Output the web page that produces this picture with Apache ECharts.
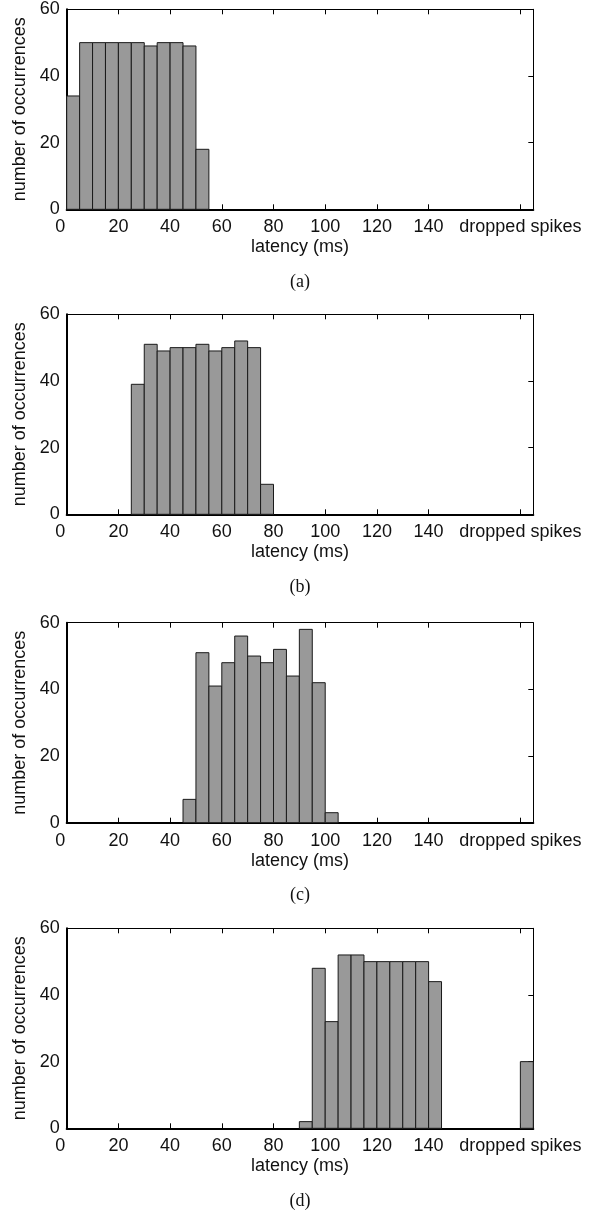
<!DOCTYPE html>
<html>
<head>
<meta charset="utf-8">
<script src="https://cdn.jsdelivr.net/npm/echarts@6/dist/echarts.min.js"></script>
<style>
html,body{margin:0;padding:0;background:#fff;}
#chart{width:593px;height:1213px;}
</style>
</head>
<body>
<div id="chart"></div>
<script>
// ---- data ----
const BIN_WIDTH = 5;            // ms
const DROPPED_POS = 175.5;      // x position of the "dropped spikes" bin
const X_MAX = 180.5;
const xTickValues = [0, 20, 40, 60, 80, 100, 120, 140];
const xTickLabels = ['0', '20', '40', '60', '80', '100', '120', '140'];
const droppedLabel = 'dropped spikes';
const yTickValues = [0, 20, 40, 60];
const captions = ['(a)', '(b)', '(c)', '(d)'];

const binsA   = [0, 5, 10, 15, 20, 25, 30, 35, 40, 45, 50];
const countsA = [34, 50, 50, 50, 50, 50, 49, 50, 50, 49, 18];
const droppedA = 0;

const binsB   = [25, 30, 35, 40, 45, 50, 55, 60, 65, 70, 75];
const countsB = [39, 51, 49, 50, 50, 51, 49, 50, 52, 50, 9];
const droppedB = 0;

const binsC   = [45, 50, 55, 60, 65, 70, 75, 80, 85, 90, 95, 100];
const countsC = [7, 51, 41, 48, 56, 50, 48, 52, 44, 58, 42, 3];
const droppedC = 0;

const binsD   = [90, 95, 100, 105, 110, 115, 120, 125, 130, 135, 140];
const countsD = [2, 48, 32, 52, 52, 50, 50, 50, 50, 50, 44];
const droppedD = 20;

// ---- layout ----
const panels = [
  {bins: binsA, counts: countsA, dropped: droppedA, top: 9.3},
  {bins: binsB, counts: countsB, dropped: droppedB, top: 314.3},
  {bins: binsC, counts: countsC, dropped: droppedC, top: 622.7},
  {bins: binsD, counts: countsD, dropped: droppedD, top: 928.3}
];
const GRID_LEFT = 66.7, GRID_RIGHT = 593 - 533.3, GRID_H = 200;
const FONT = 'Liberation Sans, Arial, Helvetica, sans-serif';
const FS = 18;
const TXT = '#111';

const grid = [], xAxis = [], yAxis = [], series = [], graphic = [];
const xTicksAll = xTickValues.concat([DROPPED_POS]);

panels.forEach((p, i) => {
  grid.push({left: GRID_LEFT, right: GRID_RIGHT, top: p.top, height: GRID_H, containLabel: false});
  // bottom x axis
  xAxis.push({
    type: 'value', gridIndex: i, min: 0, max: X_MAX, position: 'bottom',
    name: 'latency (ms)', nameLocation: 'middle', nameGap: 29,
    nameTextStyle: {fontFamily: FONT, fontSize: FS, color: TXT},
    axisLine: {show: true, onZero: false, lineStyle: {color: '#000', width: 2}},
    axisTick: {show: true, inside: true, length: 5, customValues: xTicksAll.slice(1), lineStyle: {color: '#000', width: 1}},
    axisLabel: {
      show: true, margin: 9, fontFamily: FONT, fontSize: FS, color: TXT,
      customValues: xTicksAll,
      formatter: v => {
        if (Math.abs(v - DROPPED_POS) < 1e-6) return droppedLabel;
        const k = xTickValues.indexOf(v);
        if (k === 0) return '{z|' + xTickLabels[0] + '}';
        return k >= 0 ? xTickLabels[k] : '';
      },
      rich: {z: {fontFamily: FONT, fontSize: FS, color: TXT, padding: [0, 13, 0, 0]}}
    },
    splitLine: {show: false}
  });
  // top x axis (frame with ticks)
  xAxis.push({
    type: 'value', gridIndex: i, min: 0, max: X_MAX, position: 'top',
    axisLine: {show: true, onZero: false, lineStyle: {color: '#000', width: 1}},
    axisTick: {show: true, inside: true, length: 5, customValues: xTicksAll.slice(1), lineStyle: {color: '#000', width: 1}},
    axisLabel: {show: false},
    splitLine: {show: false}
  });
  // left y axis
  yAxis.push({
    type: 'value', gridIndex: i, min: 0, max: 60, interval: 20, position: 'left',
    name: 'number of occurrences', nameLocation: 'middle', nameGap: 31,
    nameTextStyle: {fontFamily: FONT, fontSize: FS, color: TXT},
    axisLine: {show: true, onZero: false, lineStyle: {color: '#000', width: 2}},
    axisTick: {show: false},
    axisLabel: {show: true, margin: 7, fontFamily: FONT, fontSize: FS, color: TXT,
      customValues: yTickValues, formatter: v => String(v)},
    splitLine: {show: false}
  });
  // right y axis (frame with ticks)
  yAxis.push({
    type: 'value', gridIndex: i, min: 0, max: 60, interval: 20, position: 'right',
    axisLine: {show: true, onZero: false, lineStyle: {color: '#000', width: 1}},
    axisTick: {show: true, inside: true, length: 5, customValues: [20, 40], lineStyle: {color: '#000', width: 1}},
    axisLabel: {show: false},
    splitLine: {show: false}
  });

  const data = p.bins.map((b, k) => [b, b + BIN_WIDTH, p.counts[k]]);
  if (p.dropped > 0) data.push([DROPPED_POS, X_MAX, p.dropped]);
  series.push({
    type: 'custom', xAxisIndex: 2 * i, yAxisIndex: 2 * i, z: 3,
    data: data,
    renderItem: (params, api) => {
      const a = api.coord([api.value(0), api.value(2)]);
      const b = api.coord([api.value(1), 0]);
      return {
        type: 'rect',
        shape: {x: a[0], y: a[1], width: b[0] - a[0], height: b[1] - a[1]},
        style: {fill: '#999999', stroke: '#1a1a1a', lineWidth: 1}
      };
    }
  });

  graphic.push({
    type: 'text', x: 300, y: p.top + GRID_H + 73,
    style: {text: captions[i], fontFamily: 'Liberation Serif, DejaVu Serif, serif', fontSize: 18,
      fill: '#111', textAlign: 'center', textVerticalAlign: 'middle'}
  });
});

const chart = echarts.init(document.getElementById('chart'), null, {renderer: 'canvas'});
chart.setOption({animation: false, backgroundColor: '#fff', grid, xAxis, yAxis, series, graphic});
</script>
</body>
</html>
